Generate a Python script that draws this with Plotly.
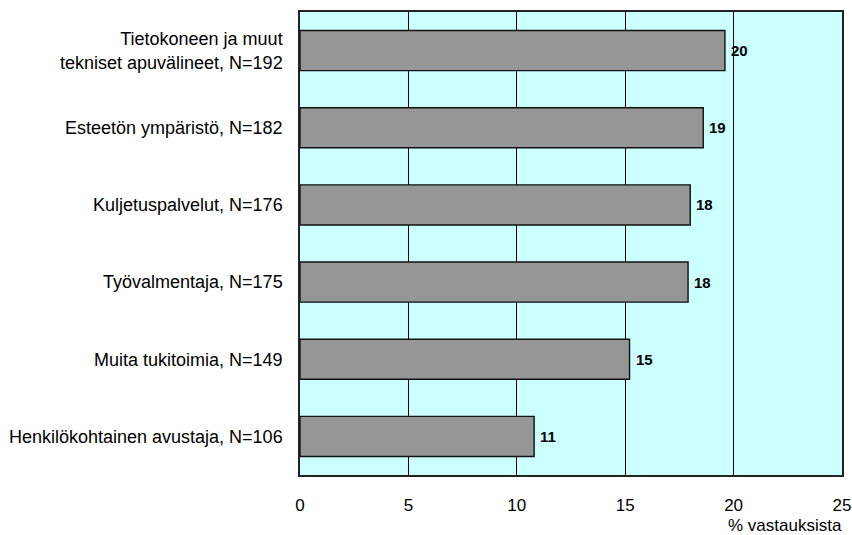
import plotly.graph_objects as go

# Survey responses: share of answers (%) per support measure
categories = [
    "Tietokoneen ja muut<br>tekniset apuvälineet, N=192",
    "Esteetön ympäristö, N=182",
    "Kuljetuspalvelut, N=176",
    "Työvalmentaja, N=175",
    "Muita tukitoimia, N=149",
    "Henkilökohtainen avustaja, N=106",
]
shares = [19.6, 18.6, 18.0, 17.9, 15.2, 10.8]
x_ticks = [0, 5, 10, 15, 20, 25]

FONT = "Liberation Sans, Arial, sans-serif"

fig = go.Figure()
fig.add_trace(go.Bar(
    x=shares,
    y=categories,
    orientation="h",
    marker=dict(color="#969696", line=dict(color="#111111", width=1.4)),
    hoverinfo="skip",
))

# Bold value labels just right of each bar end
for cat, val in zip(categories, shares):
    fig.add_annotation(
        x=val, y=cat, xref="x", yref="y",
        text=f"<b>{val:.0f}</b>",
        showarrow=False, xanchor="left", yanchor="middle", xshift=4,
        font=dict(family=FONT, size=15, color="#000000"),
    )

# Axis title, right-aligned under the value axis
fig.add_annotation(
    x=1, y=0, xref="paper", yref="paper",
    text="% vastauksista", showarrow=False,
    xanchor="right", yanchor="middle", yshift=-50, xshift=2,
    font=dict(family=FONT, size=17, color="#000000"),
)

fig.update_layout(
    width=852, height=535,
    margin=dict(l=300, r=10, t=12, b=60),
    paper_bgcolor="#FFFFFF",
    plot_bgcolor="#CCFFFF",
    bargap=0.48,
    showlegend=False,
    font=dict(family=FONT, size=17, color="#000000"),
)
fig.update_xaxes(
    range=[0, 25], tickvals=x_ticks,
    showgrid=True, gridcolor="#000000", gridwidth=1,
    showline=True, linecolor="#222222", linewidth=1.5, mirror=True,
    zeroline=False, ticks="outside", ticklen=0,
    ticklabelstandoff=14, automargin=False,
    tickfont=dict(family=FONT, size=17),
)
fig.update_yaxes(
    autorange="reversed",
    showgrid=False,
    showline=True, linecolor="#222222", linewidth=1.5, mirror=True,
    ticks="outside", ticklen=0, ticklabelstandoff=12, automargin=False,
    tickfont=dict(family=FONT, size=18),
)

fig.write_html("out.html")
